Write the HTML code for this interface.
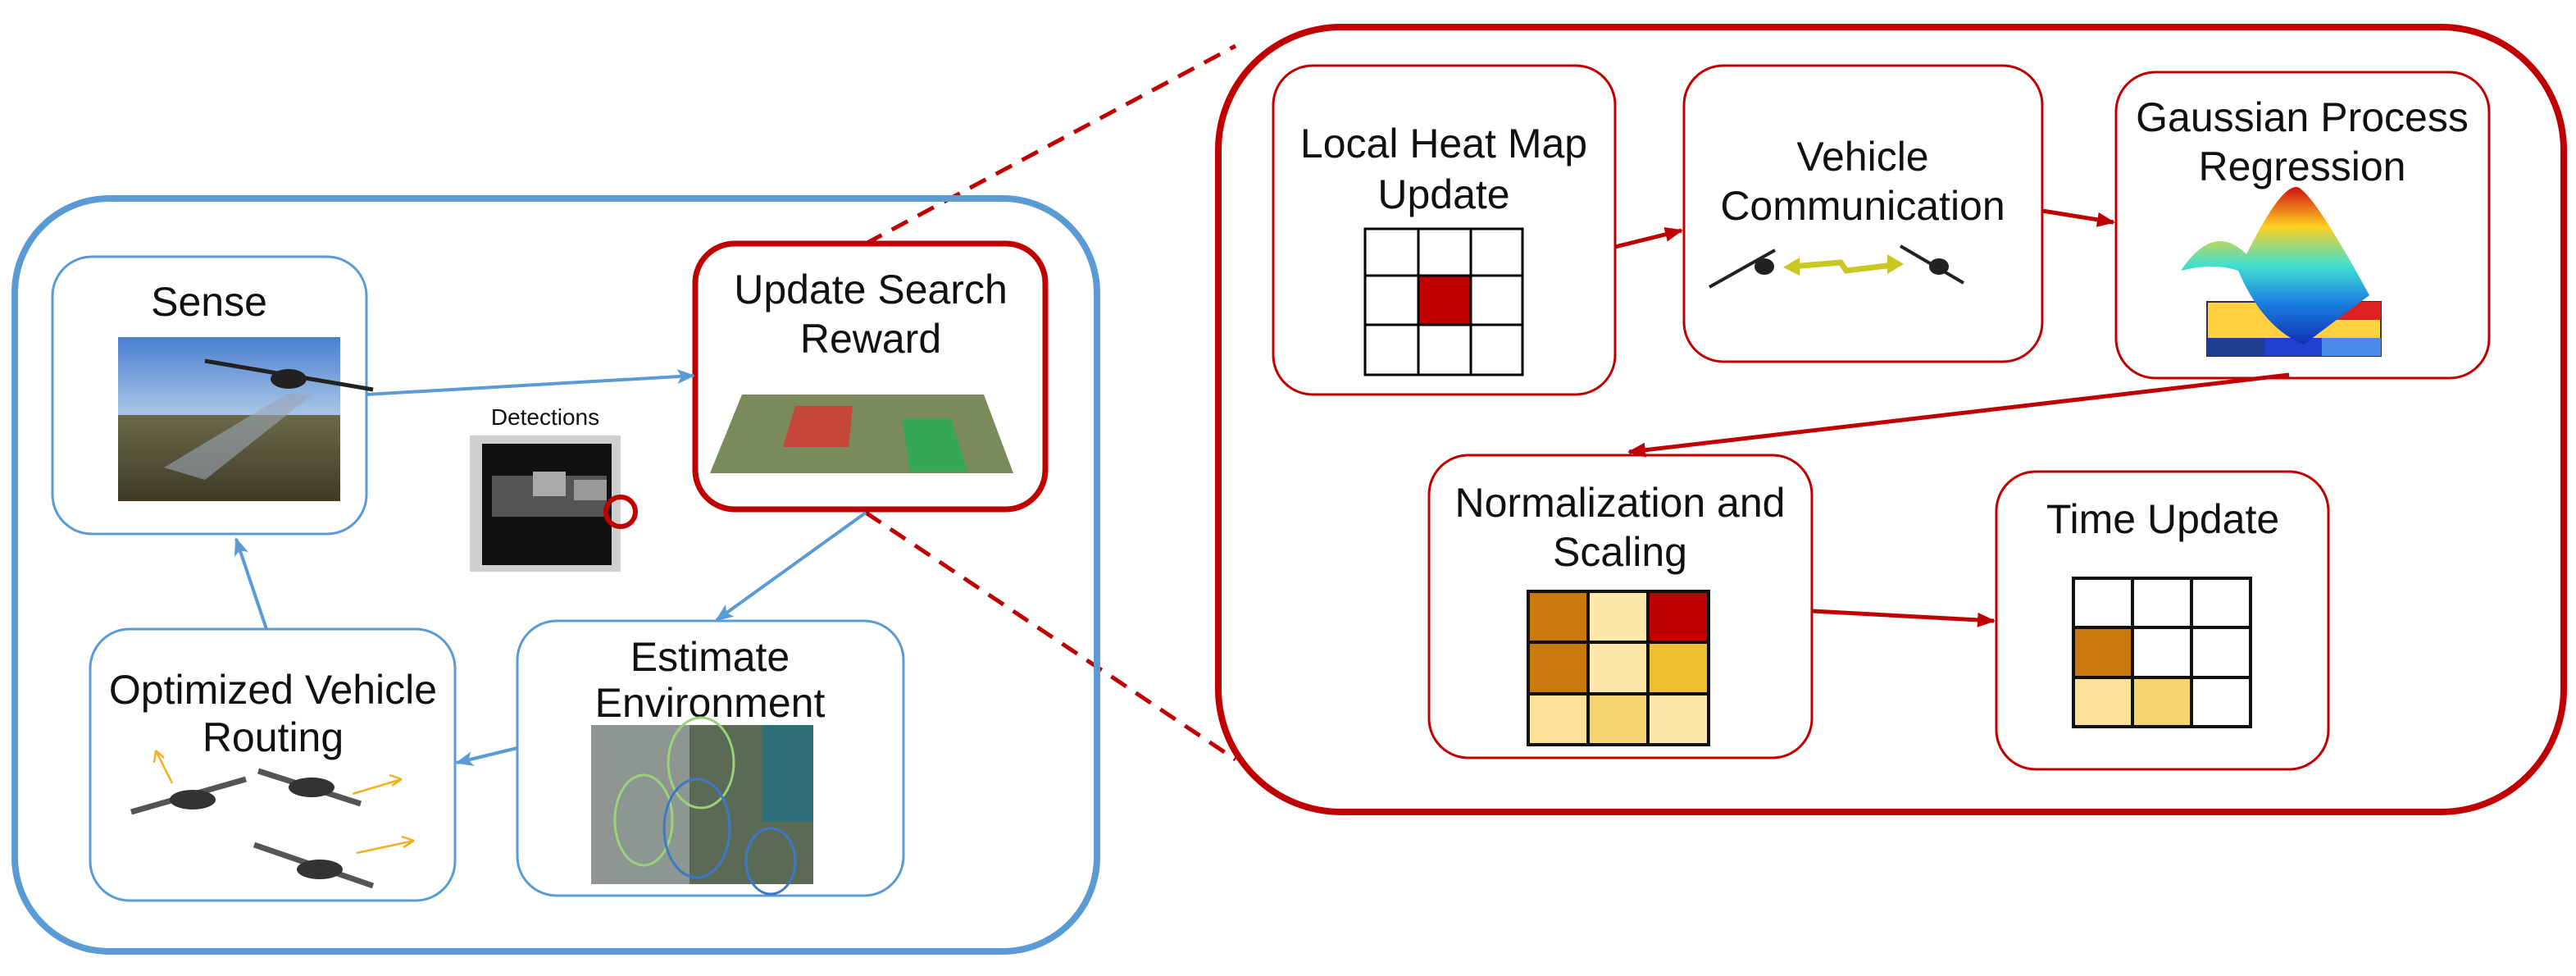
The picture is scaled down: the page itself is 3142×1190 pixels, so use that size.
<!DOCTYPE html>
<html><head><meta charset="utf-8"><style>
html,body{margin:0;padding:0;background:#fff;}
svg{display:block;}
text{font-family:"Liberation Sans",Arial,sans-serif;fill:#111;}
</style></head><body>
<svg width="3142" height="1190" viewBox="0 0 3142 1190" xmlns="http://www.w3.org/2000/svg">
<defs>
<marker id="abb" markerWidth="22" markerHeight="22" refX="20" refY="11" orient="auto" markerUnits="userSpaceOnUse"><path d="M0,2 L22,11 L0,20 L5,11 z" fill="#5b9bd5"/></marker>
<marker id="ar" markerWidth="22" markerHeight="22" refX="20" refY="11" orient="auto" markerUnits="userSpaceOnUse"><path d="M0,2 L22,11 L0,20 z" fill="#c00000"/></marker>
<linearGradient id="sky" x1="0" y1="0" x2="0" y2="1"><stop offset="0" stop-color="#4a7fd0"/><stop offset="1" stop-color="#a9c6e6"/></linearGradient>
<linearGradient id="ground" x1="0" y1="0" x2="0" y2="1"><stop offset="0" stop-color="#6a6a48"/><stop offset="1" stop-color="#3e3a26"/></linearGradient>
<linearGradient id="gp" x1="0" y1="0" x2="0" y2="1"><stop offset="0" stop-color="#d01010"/><stop offset="0.25" stop-color="#ffd020"/><stop offset="0.5" stop-color="#40e0d0"/><stop offset="0.75" stop-color="#1a7ae0"/><stop offset="1" stop-color="#1030b0"/></linearGradient>
</defs>

<line x1="1056" y1="297" x2="1507" y2="56" stroke="#c00000" stroke-width="5" stroke-dasharray="22,14"/>
<line x1="1056" y1="625" x2="1507" y2="926" stroke="#c00000" stroke-width="5" stroke-dasharray="22,14"/>

<rect x="18" y="242" width="1320" height="918" rx="115" fill="none" stroke="#5b9bd5" stroke-width="8"/>

<!-- Sense -->
<rect x="64" y="313" width="383" height="338" rx="48" fill="#fff" stroke="#5b9bd5" stroke-width="3"/>
<text x="255" y="385" font-size="50" text-anchor="middle">Sense</text>
<rect x="144" y="411" width="271" height="95" fill="url(#sky)"/>
<rect x="144" y="506" width="271" height="105" fill="url(#ground)"/>
<polygon points="350,480 380,482 250,585 200,570" fill="#9aa7b5" opacity="0.6"/>
<line x1="250" y1="440" x2="455" y2="475" stroke="#222" stroke-width="5"/>
<ellipse cx="352" cy="462" rx="22" ry="12" fill="#222"/>

<!-- Detections -->
<text x="665" y="518" font-size="28" text-anchor="middle">Detections</text>
<rect x="573" y="531" width="184" height="166" fill="#cfcfcf"/>
<rect x="588" y="541" width="158" height="148" fill="#111"/>
<rect x="600" y="580" width="140" height="50" fill="#555"/>
<rect x="650" y="575" width="40" height="30" fill="#aaa"/>
<rect x="700" y="585" width="40" height="25" fill="#999"/>
<circle cx="757" cy="624" r="18" fill="none" stroke="#c00000" stroke-width="6"/>

<!-- Update Search Reward -->
<rect x="848" y="297" width="427" height="324" rx="48" fill="#fff" stroke="#c00000" stroke-width="7"/>
<text x="1062" y="370" font-size="50" text-anchor="middle">Update Search</text>
<text x="1062" y="430" font-size="50" text-anchor="middle">Reward</text>
<polygon points="905,481 1200,481 1236,577 866,577" fill="#7a8a5a"/>
<polygon points="970,495 1040,495 1035,545 955,545" fill="#e03030" opacity="0.75"/>
<polygon points="1100,510 1160,510 1180,575 1110,575" fill="#20b050" opacity="0.75"/>

<!-- Estimate Environment -->
<rect x="631" y="757" width="471" height="335" rx="48" fill="#fff" stroke="#5b9bd5" stroke-width="3"/>
<text x="866" y="818" font-size="50" text-anchor="middle">Estimate</text>
<text x="866" y="874" font-size="50" text-anchor="middle">Environment</text>
<rect x="721" y="884" width="271" height="194" fill="#5a6a55"/>
<rect x="721" y="884" width="120" height="194" fill="#8d9691"/>
<rect x="930" y="884" width="62" height="118" fill="#2f6f78"/>
<ellipse cx="855" cy="930" rx="40" ry="55" fill="none" stroke="#9ad27a" stroke-width="3"/>
<ellipse cx="785" cy="1000" rx="35" ry="55" fill="none" stroke="#9ad27a" stroke-width="3"/>
<ellipse cx="850" cy="1010" rx="40" ry="60" fill="none" stroke="#3b78c8" stroke-width="3"/>
<ellipse cx="940" cy="1050" rx="30" ry="40" fill="none" stroke="#3b78c8" stroke-width="3"/>

<!-- Optimized Vehicle Routing -->
<rect x="110" y="767" width="445" height="331" rx="48" fill="#fff" stroke="#5b9bd5" stroke-width="3"/>
<text x="333" y="858" font-size="50" text-anchor="middle">Optimized Vehicle</text>
<text x="333" y="916" font-size="50" text-anchor="middle">Routing</text>
<g stroke="#555" stroke-width="7">
<line x1="160" y1="990" x2="300" y2="950"/><line x1="315" y1="940" x2="440" y2="980"/><line x1="310" y1="1030" x2="455" y2="1080"/>
</g>
<g fill="#333"><ellipse cx="235" cy="975" rx="28" ry="12"/><ellipse cx="380" cy="960" rx="28" ry="12"/><ellipse cx="390" cy="1060" rx="28" ry="12"/></g>
<g stroke="#f0b020" stroke-width="2.5" fill="none">
<path d="M210 955 L190 915 M190 915 L188 930 M190 915 L200 924"/>
<path d="M430 968 L490 950 M490 950 L475 945 M490 950 L478 958"/>
<path d="M435 1040 L505 1025 M505 1025 L490 1020 M505 1025 L492 1033"/>
</g>

<g stroke="#5b9bd5" stroke-width="4" fill="none">
<line x1="447" y1="481" x2="846" y2="458" marker-end="url(#abb)"/>
<line x1="1056" y1="625" x2="874" y2="756" marker-end="url(#abb)"/>
<line x1="631" y1="912" x2="557" y2="930" marker-end="url(#abb)"/>
<line x1="325" y1="767" x2="288" y2="657" marker-end="url(#abb)"/>
</g>

<rect x="1486" y="33" width="1641" height="957" rx="150" fill="none" stroke="#c00000" stroke-width="8"/>

<!-- Local Heat Map Update -->
<rect x="1553" y="80" width="417" height="401" rx="48" fill="#fff" stroke="#c00000" stroke-width="3"/>
<text x="1761" y="192" font-size="50" text-anchor="middle">Local Heat Map</text>
<text x="1761" y="254" font-size="50" text-anchor="middle">Update</text>
<rect x="1730" y="336" width="64" height="60" fill="#c00000"/>
<g stroke="#000" stroke-width="3" fill="none">
<rect x="1665" y="279" width="192" height="178"/>
<line x1="1730" y1="279" x2="1730" y2="457"/><line x1="1794" y1="279" x2="1794" y2="457"/>
<line x1="1665" y1="336" x2="1857" y2="336"/><line x1="1665" y1="396" x2="1857" y2="396"/>
</g>

<!-- Vehicle Communication -->
<rect x="2054" y="80" width="437" height="361" rx="48" fill="#fff" stroke="#c00000" stroke-width="3"/>
<text x="2272" y="208" font-size="50" text-anchor="middle">Vehicle</text>
<text x="2272" y="268" font-size="50" text-anchor="middle">Communication</text>
<g stroke="#222" stroke-width="4"><line x1="2085" y1="350" x2="2165" y2="305"/><line x1="2318" y1="300" x2="2395" y2="345"/></g>
<ellipse cx="2152" cy="325" rx="12" ry="10" fill="#222"/><ellipse cx="2365" cy="325" rx="12" ry="10" fill="#222"/>
<path d="M2185 325 L2245 320 L2252 330 L2310 323" stroke="#c8c820" stroke-width="7" fill="none"/>
<polygon points="2175,326 2195,314 2195,336" fill="#c8c820"/><polygon points="2322,322 2302,310 2302,334" fill="#c8c820"/>

<!-- Gaussian Process Regression -->
<rect x="2581" y="88" width="455" height="373" rx="48" fill="#fff" stroke="#c00000" stroke-width="3"/>
<text x="2808" y="160" font-size="50" text-anchor="middle">Gaussian Process</text>
<text x="2808" y="220" font-size="50" text-anchor="middle">Regression</text>
<rect x="2692" y="368" width="212" height="66" fill="#ffd040" stroke="#333" stroke-width="2"/>
<rect x="2832" y="368" width="72" height="22" fill="#e02020"/>
<rect x="2692" y="412" width="70" height="22" fill="#1e3f90"/><rect x="2762" y="412" width="70" height="22" fill="#2040d0"/><rect x="2832" y="412" width="72" height="22" fill="#4a8ae8"/>
<path d="M2660 330 Q2700 270 2740 310 Q2790 210 2808 232 Q2830 250 2890 360 Q2850 390 2810 420 Q2760 400 2730 330 Q2700 320 2660 330 z" fill="url(#gp)"/>

<!-- Normalization and Scaling -->
<rect x="1743" y="555" width="467" height="369" rx="48" fill="#fff" stroke="#c00000" stroke-width="3"/>
<text x="1976" y="630" font-size="50" text-anchor="middle">Normalization and</text>
<text x="1976" y="690" font-size="50" text-anchor="middle">Scaling</text>
<g stroke="#111" stroke-width="4">
<rect x="1864" y="721" width="73" height="62" fill="#c8780c"/><rect x="1937" y="721" width="73" height="62" fill="#fde8a8"/><rect x="2010" y="721" width="74" height="62" fill="#c00000"/>
<rect x="1864" y="783" width="73" height="63" fill="#c8780c"/><rect x="1937" y="783" width="73" height="63" fill="#fde8a8"/><rect x="2010" y="783" width="74" height="63" fill="#ecc030"/>
<rect x="1864" y="846" width="73" height="62" fill="#fbe098"/><rect x="1937" y="846" width="73" height="62" fill="#f5d570"/><rect x="2010" y="846" width="74" height="62" fill="#fde8a8"/>
</g>

<!-- Time Update -->
<rect x="2435" y="575" width="405" height="363" rx="48" fill="#fff" stroke="#c00000" stroke-width="3"/>
<text x="2638" y="650" font-size="50" text-anchor="middle">Time Update</text>
<g stroke="#111" stroke-width="4">
<rect x="2529" y="705" width="72" height="60" fill="#fff"/><rect x="2601" y="705" width="72" height="60" fill="#fff"/><rect x="2673" y="705" width="72" height="60" fill="#fff"/>
<rect x="2529" y="765" width="72" height="61" fill="#c8780c"/><rect x="2601" y="765" width="72" height="61" fill="#fff"/><rect x="2673" y="765" width="72" height="61" fill="#fff"/>
<rect x="2529" y="826" width="72" height="60" fill="#fbe098"/><rect x="2601" y="826" width="72" height="60" fill="#f5d570"/><rect x="2673" y="826" width="72" height="60" fill="#fff"/>
</g>

<g stroke="#c00000" stroke-width="5" fill="none">
<line x1="1970" y1="301" x2="2051" y2="281" marker-end="url(#ar)"/>
<line x1="2491" y1="257" x2="2578" y2="271" marker-end="url(#ar)"/>
<line x1="2792" y1="457" x2="1987" y2="551" marker-end="url(#ar)"/>
<line x1="2210" y1="745" x2="2432" y2="757" marker-end="url(#ar)"/>
</g>
</svg>
</body></html>
